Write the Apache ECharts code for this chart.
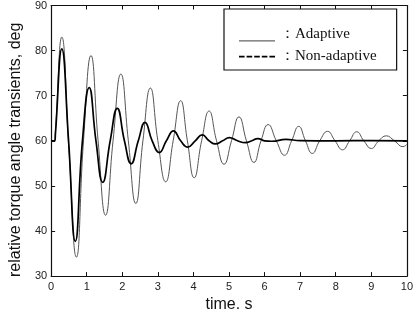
<!DOCTYPE html>
<html>
<head>
<meta charset="utf-8">
<script src="https://cdn.jsdelivr.net/npm/echarts@6/dist/echarts.min.js"></script>
<style>
  html, body { margin: 0; padding: 0; background: #fff; }
  #main { width: 416px; height: 318px; }
</style>
</head>
<body>
<div id="main"></div>
<script>
// tick labels
var xTicks = [0, 1, 2, 3, 4, 5, 6, 7, 8, 9, 10];
var yTicks = [30, 40, 50, 60, 70, 80, 90];

// thin curve: large, slowly damped swing  [time s, deg]
var nonAdaptive = [
  [0, 60], [0.1, 60], [0.12, 62], [0.3, 83], [0.5, 58], [0.71, 34.2], [0.91, 60],
  [1.12, 78.9], [1.32, 60], [1.53, 43.5], [1.74, 60], [1.96, 74.8], [2.17, 60],
  [2.38, 46.1], [2.58, 60], [2.79, 71.7], [3.0, 60], [3.22, 50.9], [3.43, 60],
  [3.64, 68.9], [3.83, 60], [4.02, 51.8], [4.23, 60], [4.44, 66.6], [4.65, 60],
  [4.86, 54.8], [5.07, 60], [5.28, 65.3], [5.49, 60], [5.7, 55.2], [5.9, 60],
  [6.1, 63.6], [6.33, 60], [6.56, 56.8], [6.76, 60], [6.96, 63.2], [7.15, 60],
  [7.34, 57.2], [7.55, 60], [7.77, 62.1], [7.98, 60], [8.19, 58.0], [8.39, 60],
  [8.59, 62.0], [8.79, 60], [9.0, 58.3], [9.21, 60], [9.42, 61.1], [9.65, 60],
  [9.89, 58.7], [10, 59.2]
];

// thick curve: well damped response
var adaptive = [
  [0, 60], [0.1, 60], [0.12, 61.5], [0.3, 80.4], [0.49, 60], [0.68, 37.7], [0.88, 60],
  [1.07, 71.8], [1.26, 60], [1.45, 50.8], [1.66, 60], [1.86, 67.2], [2.06, 60],
  [2.25, 54.9], [2.45, 60], [2.64, 64.1], [2.84, 60], [3.04, 57.4], [3.24, 60],
  [3.44, 62.2], [3.64, 60], [3.84, 58.6], [4.05, 60], [4.25, 61.3], [4.44, 60],
  [4.62, 59.3], [4.82, 60], [5.01, 60.7], [5.24, 60], [5.46, 59.6], [5.64, 60],
  [5.81, 60.5], [6.0, 60], [6.2, 59.9], [6.6, 60.3], [7.0, 60.05], [8, 60],
  [9, 60.05], [10, 60]
];

var myChart = echarts.init(document.getElementById('main'));

var labelFont = { fontFamily: 'Liberation Sans', fontSize: 11, color: '#222' };
var axisLine = { show: true, onZero: false, lineStyle: { color: '#111', width: 1.2 } };
var innerTick = { show: true, inside: true, length: 4, lineStyle: { color: '#111', width: 1 } };

var solidIcon = 'path://M0,0h0.01v0.01h-0.01z M0,12.8h36v1.2h-36z';
var dashIcon = 'path://M0,0h0.01v0.01h-0.01z M0,13.99h0.01v0.01h-0.01z ' +
  'M0,6.2h5.6v1.8h-5.6z M7.6,6.2h5.6v1.8h-5.6z M15.2,6.2h5.6v1.8h-5.6z ' +
  'M22.8,6.2h5.6v1.8h-5.6z M30.4,6.2h5.6v1.8h-5.6z';

var option = {
  animation: false,
  backgroundColor: '#fff',
  grid: { left: 37, right: 7, top: 4, bottom: 30 },
  legend: {
    orient: 'vertical',
    left: 224,
    top: 9,
    width: 173,
    padding: [18, 20, 6, 15],
    itemGap: 7,
    itemWidth: 36,
    itemHeight: 14,
    borderColor: '#111',
    borderWidth: 1.2,
    backgroundColor: '#fff',
    textStyle: { fontFamily: 'Liberation Serif', fontSize: 15, color: '#111' },
    formatter: function (name) { return '：' + name; },
    data: [
      { name: 'Adaptive', icon: solidIcon, itemStyle: { color: '#666' } },
      { name: 'Non-adaptive', icon: dashIcon, itemStyle: { color: '#000' } }
    ]
  },
  xAxis: [{
    type: 'value', min: 0, max: 10, interval: 1,
    name: 'time. s', nameLocation: 'middle', nameGap: 16,
    nameTextStyle: { fontFamily: 'Liberation Sans', fontSize: 16, color: '#111' },
    axisLine: axisLine, axisTick: innerTick,
    axisLabel: Object.assign({ margin: 5, formatter: function (v) { return xTicks.indexOf(v) >= 0 ? String(v) : ''; } }, labelFont),
    splitLine: { show: false }
  }, {
    type: 'value', min: 0, max: 10, interval: 1, position: 'top',
    axisLine: axisLine, axisTick: innerTick, axisLabel: { show: false }, splitLine: { show: false }
  }],
  yAxis: [{
    type: 'value', min: 30, max: 90, interval: 10,
    name: 'relative torque angle transients, deg', nameLocation: 'middle', nameGap: 17,
    nameTextStyle: { fontFamily: 'Liberation Sans', fontSize: 16, color: '#111', padding: [0, 18, 0, 0] },
    axisLine: axisLine, axisTick: innerTick,
    axisLabel: Object.assign({ margin: 4, formatter: function (v) { return yTicks.indexOf(v) >= 0 ? String(v) : ''; } }, labelFont),
    splitLine: { show: false }
  }, {
    type: 'value', min: 30, max: 90, interval: 10, position: 'right',
    axisLine: axisLine, axisTick: innerTick, axisLabel: { show: false }, splitLine: { show: false }
  }],
  series: [
    {
      name: 'Non-adaptive', type: 'line', data: nonAdaptive,
      symbol: 'none', smooth: 0.5, z: 2,
      lineStyle: { color: '#555', width: 1 }
    },
    {
      name: 'Adaptive', type: 'line', data: adaptive,
      symbol: 'none', smooth: 0.5, z: 3,
      lineStyle: { color: '#000', width: 1.7 }
    }
  ]
};

myChart.setOption(option);
</script>
</body>
</html>
